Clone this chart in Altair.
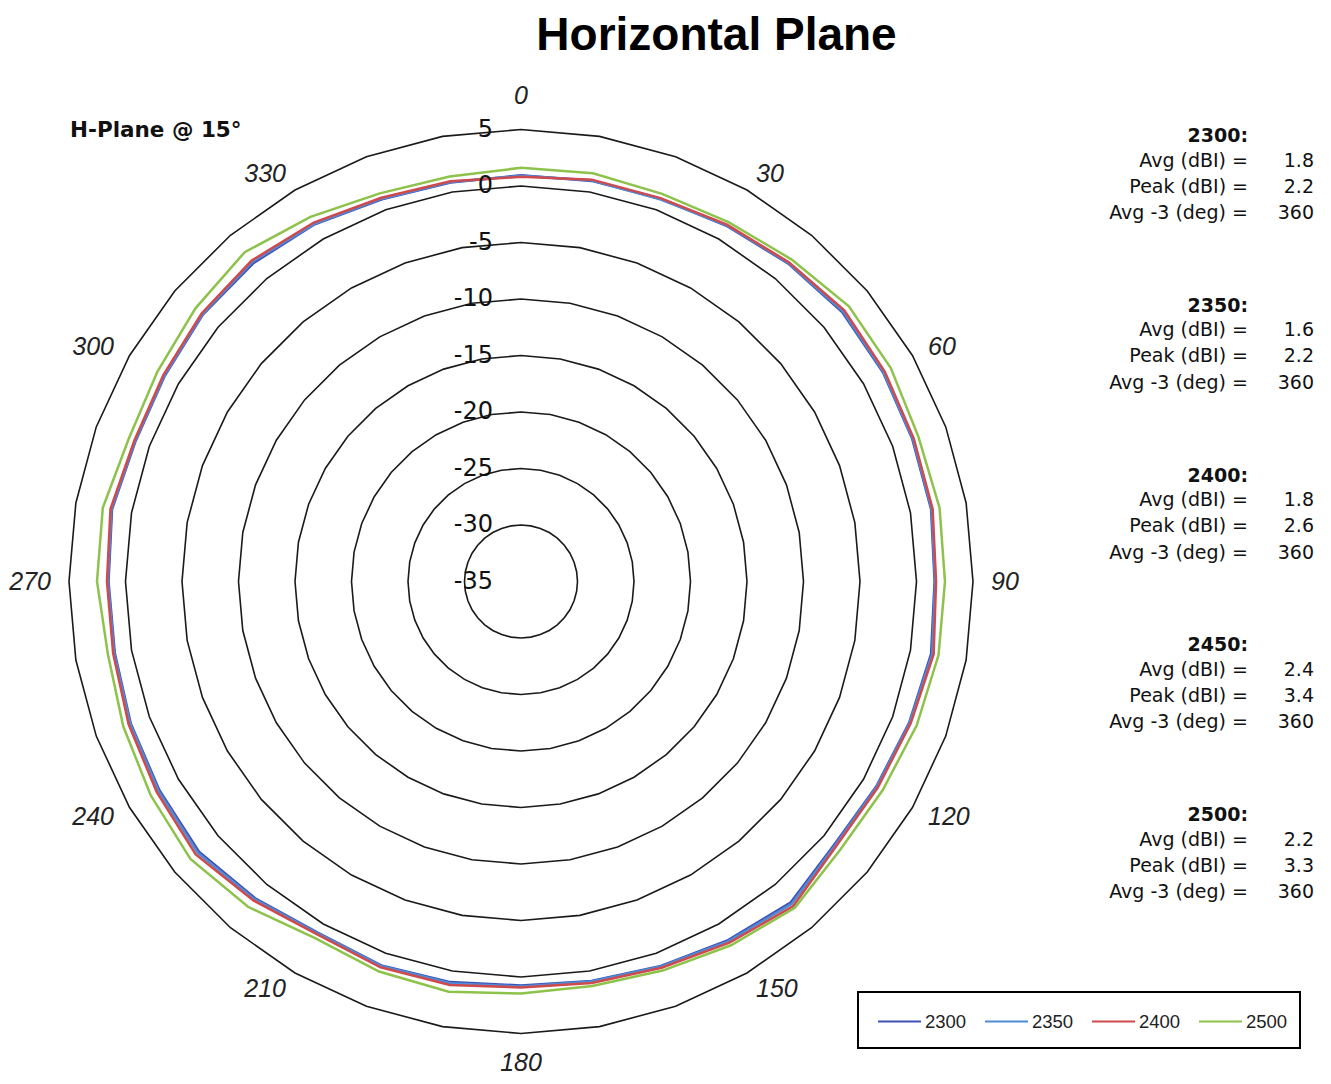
import altair as alt
import pandas as pd

# ---------------- data ----------------
angles = list(range(0, 360, 10))
series_names = ["2300", "2350", "2400", "2500"]
series_colors = ["#3F52B4", "#4F8BD6", "#CF4A4C", "#8DC24B"]

gain_2300 = [0.95, 1.00, 1.05, 1.35, 1.75, 2.10, 2.00, 1.85, 1.85, 1.60, 1.85, 1.55,
             1.30, 1.20, 2.10, 1.65, 1.20, 0.90, 0.75, 1.00, 1.15, 0.90, 1.60, 2.20,
             1.95, 1.75, 1.50, 1.50, 1.75, 1.30, 1.40, 1.75, 1.80, 1.50, 1.00, 0.85]
gain_2350 = [0.90, 1.05, 1.00, 1.40, 1.80, 2.20, 2.05, 1.90, 1.90, 1.65, 1.95, 1.60,
             1.35, 1.30, 2.25, 1.75, 1.25, 0.95, 0.85, 1.10, 1.20, 0.95, 1.70, 2.35,
             2.05, 1.80, 1.55, 1.55, 1.80, 1.35, 1.45, 1.80, 1.95, 1.55, 1.05, 0.90]
gain_2400 = [0.81, 1.11, 1.11, 1.46, 1.88, 2.35, 2.17, 1.99, 1.99, 1.73, 2.08, 1.70,
             1.46, 1.42, 2.49, 1.90, 1.37, 1.07, 0.93, 1.25, 1.33, 1.06, 1.84, 2.58,
             2.23, 1.95, 1.65, 1.64, 1.89, 1.42, 1.55, 1.90, 2.08, 1.68, 1.14, 0.96]
gain_2500 = [1.61, 1.68, 1.51, 1.73, 2.22, 2.88, 2.79, 2.43, 2.61, 2.52, 2.52, 2.26,
             1.95, 1.90, 2.70, 2.17, 1.64, 1.35, 1.46, 1.86, 1.73, 1.44, 2.58, 3.19,
             2.84, 2.46, 2.12, 2.52, 2.58, 1.94, 2.15, 2.61, 3.04, 2.26, 1.55, 1.40]

ring_values = [-30, -25, -20, -15, -10, -5, 0, 5]
ring_label_values = [-35, -30, -25, -20, -15, -10, -5, 0, 5]
angle_label_values = list(range(0, 360, 30))

stat_freqs = ["2300", "2350", "2400", "2450", "2500"]
stat_avg = ["1.8", "1.6", "1.8", "2.4", "2.2"]
stat_peak = ["2.2", "2.2", "2.6", "3.4", "3.3"]
stat_avg3 = ["360", "360", "360", "360", "360"]
stat_labels = ["Avg (dBI) =", "Peak (dBI) =", "Avg -3 (deg) ="]

chart_title = "Horizontal Plane"
plane_note = "H-Plane @ 15°"

# ---------------- geometry / scales ----------------
R_MIN = -35          # value at the centre
PX = 11.3            # pixels per dB
W, H = 1310, 1066
CX, CY = 513, 573.5  # centre of polar plot in chart pixels
FONT = "Liberation Sans"
FONT2 = "DejaVu Sans"

xs = alt.Scale(domain=[-CX / PX, (W - CX) / PX], nice=False, zero=False)
ys = alt.Scale(domain=[-(H - CY) / PX, CY / PX], nice=False, zero=False)


def polar(chart, value_expr):
    return chart.transform_calculate(
        r=f"({value_expr}) - ({R_MIN})",
        px="datum.r * sin(datum.angle * PI / 180)",
        py="datum.r * cos(datum.angle * PI / 180)",
    )


# rings
ring_df = pd.DataFrame([{"ring": v, "angle": a} for v in ring_values for a in angles])
rings = polar(alt.Chart(ring_df), "datum.ring").mark_line(
    interpolate="linear-closed", color="#1a1a1a", strokeWidth=1.6
).encode(
    x=alt.X("px:Q", scale=xs, axis=None),
    y=alt.Y("py:Q", scale=ys, axis=None),
    detail="ring:N",
    order="angle:Q",
)

# traces
rows = []
for name, vals in zip(series_names, [gain_2300, gain_2350, gain_2400, gain_2500]):
    for a, v in zip(angles, vals):
        rows.append({"series": name, "angle": a, "gain": v})
trace_df = pd.DataFrame(rows)
traces = polar(alt.Chart(trace_df), "datum.gain").mark_line(
    interpolate="linear-closed", strokeWidth=2.5
).encode(
    x=alt.X("px:Q", scale=xs, axis=None),
    y=alt.Y("py:Q", scale=ys, axis=None),
    color=alt.Color(
        "series:N",
        scale=alt.Scale(domain=series_names, range=series_colors),
        legend=alt.Legend(
            title=None, orient="none", legendX=869, legendY=991,
            direction="horizontal", symbolType="stroke", symbolSize=1849,
            symbolStrokeWidth=2, labelFontSize=18.5, labelFont=FONT,
            labelColor="#222222", columnPadding=14, labelOffset=3, padding=0,
        ),
    ),
    order="angle:Q",
)

# ring labels
rl_df = pd.DataFrame({"ring": ring_label_values, "label": [str(v) for v in ring_label_values]})
ring_labels = alt.Chart(rl_df).transform_calculate(
    px="0", py=f"datum.ring - ({R_MIN})"
).mark_text(
    align="right", baseline="middle", dx=-28, fontSize=24, font=FONT2, color="#111111"
).encode(
    x=alt.X("px:Q", scale=xs, axis=None),
    y=alt.Y("py:Q", scale=ys, axis=None),
    text="label:N",
)

# angle labels: placed just outside the outer ring, pushed sideways by half their width
LAB_R = 470 / PX
HALF_CHAR = 6.95 / PX
al_df = pd.DataFrame({"angle": angle_label_values, "label": [str(a) for a in angle_label_values]})
angle_labels = alt.Chart(al_df).transform_calculate(
    s="sin(datum.angle * PI / 180)",
    c="cos(datum.angle * PI / 180)",
).transform_calculate(
    px=f"{LAB_R} * datum.s + (abs(datum.s) > 0.01 ? (datum.s > 0 ? 1 : -1) * length(datum.label) * {HALF_CHAR} : 0)",
    py=f"{LAB_R} * datum.c + (datum.angle == 0 ? {15.5 / PX} : (datum.angle == 180 ? {-11 / PX} : 0))",
).mark_text(
    align="center", baseline="middle", fontSize=25, fontStyle="italic", font=FONT, color="#222222"
).encode(
    x=alt.X("px:Q", scale=xs, axis=None),
    y=alt.Y("py:Q", scale=ys, axis=None),
    text="label:N",
)

# stats block on the right
row_off = [0, 24.5, 50.5, 77]
st_rows = []
for i, f in enumerate(stat_freqs):
    base = 128 + i * 169.8
    st_rows.append({"text": f + ":", "xp": 1240, "yp": base + row_off[0], "kind": "head"})
    for j, (lab, val) in enumerate(zip(stat_labels, [stat_avg[i], stat_peak[i], stat_avg3[i]])):
        st_rows.append({"text": lab, "xp": 1240, "yp": base + row_off[j + 1], "kind": "lab"})
        st_rows.append({"text": val, "xp": 1306, "yp": base + row_off[j + 1], "kind": "val"})
st_df = pd.DataFrame(st_rows)
stats_head = alt.Chart(st_df).transform_filter("datum.kind == 'head'").mark_text(
    align="right", baseline="middle", fontSize=19, fontWeight="bold", font=FONT2, color="#111111"
).encode(x=alt.X("xp:Q", scale=None), y=alt.Y("yp:Q", scale=None), text="text:N")
stats_body = alt.Chart(st_df).transform_filter("datum.kind != 'head'").mark_text(
    align="right", baseline="middle", fontSize=19, font=FONT2, color="#111111"
).encode(x=alt.X("xp:Q", scale=None), y=alt.Y("yp:Q", scale=None), text="text:N")

# title and note
title = alt.Chart(pd.DataFrame({"t": [chart_title]})).mark_text(
    align="center", baseline="alphabetic", fontSize=46, fontWeight="bold", font=FONT, color="#000000"
).encode(x=alt.value(708.5), y=alt.value(41.5), text="t:N")
note = alt.Chart(pd.DataFrame({"t": [plane_note]})).mark_text(
    align="left", baseline="middle", fontSize=21.5, fontWeight="bold", font=FONT2, color="#111111"
).encode(x=alt.value(62), y=alt.value(123), text="t:N")

# legend frame
frame = alt.Chart(pd.DataFrame({"k": [1]})).mark_rect(
    fillOpacity=0, stroke="#000000", strokeWidth=2
).encode(x=alt.value(850), x2=alt.value(1292), y=alt.value(984), y2=alt.value(1040))

chart = alt.layer(
    rings, traces, ring_labels, angle_labels, stats_head, stats_body, title, note, frame
).properties(
    width=W, height=H, padding=0, autosize=alt.AutoSizeParams(type="none")
).configure_view(strokeWidth=0)

chart.save("out.html", embed_options={"renderer": "svg", "actions": False})
